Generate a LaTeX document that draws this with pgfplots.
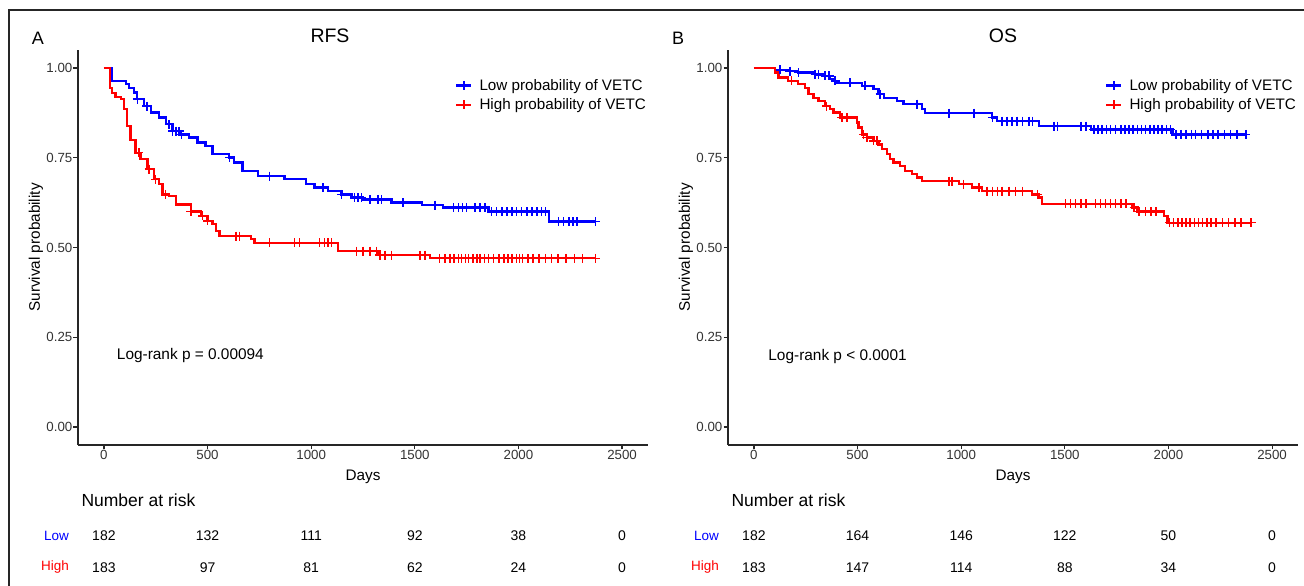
\documentclass[border=0pt]{standalone}
\usepackage{fontspec}
\setmainfont{Liberation Sans}
\usepackage{pgfplots}
\pgfplotsset{compat=1.18}
\definecolor{kmblue}{RGB}{0,0,255}
\definecolor{kmred}{RGB}{255,0,0}
\newcommand{\fs}[1]{\fontsize{#1}{#1}\selectfont}

\pgfplotsset{
  kmaxis/.style={
    scale only axis, width=570pt, height=395pt, anchor=south west,
    xmin=-125, xmax=2625, ymin=-0.05, ymax=1.05,
    axis x line*=bottom, axis y line*=left,
    axis line style={black!85, line width=1.5pt, -},
    tick align=outside, major tick length=4.5pt,
    every tick/.style={black!85, line width=1.2pt},
    xtick={0,500,...,2500}, xticklabels={0,500,1000,1500,2000,2500},
    ytick={0,0.25,0.5,0.75,1}, yticklabels={0.00,0.25,0.50,0.75,1.00},
    tick label style={font=\fs{13.3}, text=black!80, inner sep=1pt},
    xlabel={Days}, ylabel={Survival probability},
    label style={font=\fs{15.3}},
    xlabel style={at={(rel axis cs:0.5,-0.0818)}, anchor=center},
    ylabel style={at={(rel axis cs:-0.0737,0.5)}, anchor=center},
    clip=false,
    legend style={draw=none, fill=none, font=\fs{15.2}, at={(rel axis cs:0.6614,0.9316)},
      anchor=north west, row sep=3pt, inner sep=0pt},
    legend cell align=left,
    legend image code/.code={\draw[mark repeat=2, mark phase=2, #1] plot coordinates {(0pt,0pt) (7.5pt,0pt) (15pt,0pt)}; \path (20pt,0pt);},
  },
  km/.style={const plot mark left, line width=2.3pt, no markers, forget plot},
  cens/.style={only marks, mark=+, mark size=4.5pt, line width=1.5pt, forget plot},
  kmleg/.style={line width=2.3pt, mark=+, mark size=4.5pt, mark options={line width=1.5pt}},
}

\begin{document}
\begin{tikzpicture}
\path[use as bounding box] (0,0) rectangle (1304pt,586pt);
\draw[line width=2pt, black!85] (9pt,0pt) -- (9pt,576pt) -- (1304pt,576pt);

% ---------------- panel A : RFS ----------------
\begin{axis}[kmaxis, at={(78pt,141pt)}]
\addlegendimage{kmblue, kmleg}
\addlegendentry{Low probability of VETC}
\addlegendimage{kmred, kmleg}
\addlegendentry{High probability of VETC}

\addplot[km, kmblue] coordinates {
(0,1) (38,0.964) (105,0.955) (120,0.945) (145,0.932) (161,0.913) (194,0.894)
(226,0.876) (266,0.862) (298,0.843) (331,0.824) (371,0.815) (411,0.806)
(452,0.792) (490,0.783) (524,0.760) (605,0.751) (629,0.737) (669,0.713)
(742,0.699) (871,0.690) (976,0.676) (1016,0.667) (1081,0.657) (1146,0.648)
(1194,0.639) (1250,0.634) (1387,0.625) (1533,0.618) (1636,0.611) (1855,0.600)
(2149,0.572) (2372,0.572)};
\addplot[cens, kmblue] coordinates {
(161,0.913) (207,0.894) (315,0.843) (331,0.824) (347,0.824) (363,0.824) (374,0.815)
(605,0.751) (799,0.699) (1057,0.667) (1146,0.648) (1210,0.639) (1226,0.639)
(1242,0.639) (1283,0.634) (1323,0.634) (1339,0.634) (1444,0.625) (1597,0.618)
(1686,0.611) (1710,0.611) (1730,0.611) (1750,0.611) (1791,0.611) (1815,0.611)
(1839,0.611) (1871,0.600) (1895,0.600) (1920,0.600) (1945,0.600) (1968,0.600)
(1990,0.600) (2015,0.600) (2040,0.600) (2065,0.600) (2090,0.600) (2110,0.600)
(2130,0.600) (2194,0.572) (2218,0.572) (2243,0.572) (2263,0.572) (2283,0.572)
(2372,0.572)};

\addplot[km, kmred] coordinates {
(0,1) (29,0.945) (40,0.930) (56,0.920) (81,0.913) (97,0.885) (113,0.838)
(129,0.800) (153,0.764) (177,0.746) (210,0.718) (242,0.690) (266,0.676)
(282,0.648) (315,0.643) (347,0.620) (420,0.600) (468,0.588) (500,0.574)
(524,0.565) (540,0.546) (557,0.532) (710,0.523) (726,0.513) (1130,0.490)
(1323,0.479) (1573,0.470) (2372,0.470)};
\addplot[cens, kmred] coordinates {
(169,0.764) (218,0.718) (250,0.690) (298,0.648) (420,0.600) (476,0.588)
(500,0.574) (637,0.532) (653,0.532) (799,0.513) (920,0.513) (944,0.513)
(1041,0.513) (1065,0.513) (1081,0.513) (1097,0.513) (1218,0.490) (1250,0.490)
(1283,0.490) (1315,0.490) (1331,0.479) (1355,0.479) (1387,0.479) (1525,0.479)
(1549,0.479) (1620,0.470) (1645,0.470) (1670,0.470) (1690,0.470) (1710,0.470)
(1725,0.470) (1745,0.470) (1760,0.470) (1780,0.470) (1800,0.470) (1815,0.470)
(1835,0.470) (1855,0.470) (1880,0.470) (1905,0.470) (1930,0.470) (1950,0.470)
(1970,0.470) (1990,0.470) (2005,0.470) (2020,0.470) (2045,0.470) (2070,0.470)
(2100,0.470) (2130,0.470) (2160,0.470) (2190,0.470) (2230,0.470) (2270,0.470)
(2310,0.470) (2372,0.470)};

\node[anchor=west, font=\fs{15.4}] at (axis cs:46,0.198) {Log-rank p = 0.00094};

\node[anchor=west, font=\fs{17.5}, yshift=-55pt] at (rel axis cs:0,0) {Number at risk};
\node[anchor=east, font=\fs{13.5}, text=kmblue, xshift=-5.6pt, yshift=-90.7pt] at (rel axis cs:0,0) {Low};
\node[anchor=east, font=\fs{13.5}, text=kmred, xshift=-5.6pt, yshift=-122.3pt] at (rel axis cs:0,0) {High};
\node[font=\fs{14}, yshift=-90.7pt] at (axis cs:0,-0.05) {182};
\node[font=\fs{14}, yshift=-90.7pt] at (axis cs:500,-0.05) {132};
\node[font=\fs{14}, yshift=-90.7pt] at (axis cs:1000,-0.05) {111};
\node[font=\fs{14}, yshift=-90.7pt] at (axis cs:1500,-0.05) {92};
\node[font=\fs{14}, yshift=-90.7pt] at (axis cs:2000,-0.05) {38};
\node[font=\fs{14}, yshift=-90.7pt] at (axis cs:2500,-0.05) {0};
\node[font=\fs{14}, yshift=-122.3pt] at (axis cs:0,-0.05) {183};
\node[font=\fs{14}, yshift=-122.3pt] at (axis cs:500,-0.05) {97};
\node[font=\fs{14}, yshift=-122.3pt] at (axis cs:1000,-0.05) {81};
\node[font=\fs{14}, yshift=-122.3pt] at (axis cs:1500,-0.05) {62};
\node[font=\fs{14}, yshift=-122.3pt] at (axis cs:2000,-0.05) {24};
\node[font=\fs{14}, yshift=-122.3pt] at (axis cs:2500,-0.05) {0};
\end{axis}

% ---------------- panel B : OS ----------------
\begin{axis}[kmaxis, at={(728pt,141pt)}]
\addlegendimage{kmblue, kmleg}
\addlegendentry{Low probability of VETC}
\addlegendimage{kmred, kmleg}
\addlegendentry{High probability of VETC}

\addplot[km, kmblue] coordinates {
(0,1) (102,0.995) (166,0.991) (214,0.987) (295,0.982) (343,0.978) (368,0.970)
(384,0.964) (400,0.959) (521,0.950) (577,0.941) (601,0.927) (626,0.917)
(690,0.908) (722,0.899) (811,0.885) (827,0.874) (1150,0.862) (1174,0.852)
(1375,0.838) (1625,0.829) (2020,0.815) (2374,0.815)};
\addplot[cens, kmblue] coordinates {
(126,0.995) (174,0.991) (214,0.987) (295,0.982) (311,0.982) (343,0.978)
(363,0.978) (392,0.964) (464,0.959) (537,0.950) (609,0.927) (787,0.899)
(940,0.874) (1061,0.874) (1150,0.862) (1198,0.852) (1222,0.852) (1246,0.852)
(1270,0.852) (1295,0.852) (1327,0.852) (1343,0.852) (1448,0.838) (1464,0.838)
(1577,0.838) (1601,0.838) (1640,0.829) (1660,0.829) (1680,0.829) (1700,0.829)
(1720,0.829) (1745,0.829) (1770,0.829) (1790,0.829) (1810,0.829) (1830,0.829)
(1850,0.829) (1870,0.829) (1890,0.829) (1910,0.829) (1930,0.829) (1950,0.829)
(1970,0.829) (1990,0.829) (2011,0.829) (2036,0.815) (2060,0.815) (2085,0.815)
(2110,0.815) (2130,0.815) (2160,0.815) (2190,0.815) (2215,0.815) (2240,0.815)
(2270,0.815) (2300,0.815) (2330,0.815) (2374,0.815)};

\addplot[km, kmred] coordinates {
(0,1) (102,0.987) (118,0.973) (166,0.964) (214,0.955) (247,0.945) (263,0.927)
(287,0.917) (311,0.908) (343,0.894) (368,0.885) (384,0.876) (416,0.862)
(497,0.848) (505,0.834) (521,0.815) (545,0.806) (577,0.797) (601,0.787)
(618,0.774) (642,0.760) (658,0.746) (674,0.737) (706,0.727) (730,0.713)
(763,0.704) (787,0.695) (811,0.685) (988,0.676) (1053,0.667) (1101,0.657)
(1340,0.648) (1375,0.639) (1391,0.622) (1826,0.611) (1851,0.600) (1980,0.588)
(1996,0.569) (2399,0.569)};
\addplot[cens, kmred] coordinates {
(182,0.964) (351,0.894) (424,0.862) (448,0.862) (529,0.815) (545,0.806)
(577,0.797) (593,0.797) (940,0.685) (956,0.685) (1012,0.676) (1085,0.667)
(1125,0.657) (1150,0.657) (1174,0.657) (1198,0.657) (1230,0.657) (1263,0.657)
(1295,0.657) (1367,0.648) (1504,0.622) (1528,0.622) (1552,0.622) (1577,0.622)
(1601,0.622) (1649,0.622) (1673,0.622) (1697,0.622) (1721,0.622) (1745,0.622)
(1770,0.622) (1794,0.622) (1834,0.611) (1858,0.600) (1890,0.600) (1915,0.600)
(1940,0.600) (2004,0.569) (2025,0.569) (2045,0.569) (2065,0.569) (2085,0.569)
(2105,0.569) (2125,0.569) (2145,0.569) (2165,0.569) (2185,0.569) (2205,0.569)
(2230,0.569) (2260,0.569) (2290,0.569) (2320,0.569) (2350,0.569) (2399,0.569)};

\node[anchor=west, font=\fs{15.4}] at (axis cs:53,0.196) {Log-rank p < 0.0001};

\node[anchor=west, font=\fs{17.5}, yshift=-55pt] at (rel axis cs:0,0) {Number at risk};
\node[anchor=east, font=\fs{13.5}, text=kmblue, xshift=-5.6pt, yshift=-90.7pt] at (rel axis cs:0,0) {Low};
\node[anchor=east, font=\fs{13.5}, text=kmred, xshift=-5.6pt, yshift=-122.3pt] at (rel axis cs:0,0) {High};
\node[font=\fs{14}, yshift=-90.7pt] at (axis cs:0,-0.05) {182};
\node[font=\fs{14}, yshift=-90.7pt] at (axis cs:500,-0.05) {164};
\node[font=\fs{14}, yshift=-90.7pt] at (axis cs:1000,-0.05) {146};
\node[font=\fs{14}, yshift=-90.7pt] at (axis cs:1500,-0.05) {122};
\node[font=\fs{14}, yshift=-90.7pt] at (axis cs:2000,-0.05) {50};
\node[font=\fs{14}, yshift=-90.7pt] at (axis cs:2500,-0.05) {0};
\node[font=\fs{14}, yshift=-122.3pt] at (axis cs:0,-0.05) {183};
\node[font=\fs{14}, yshift=-122.3pt] at (axis cs:500,-0.05) {147};
\node[font=\fs{14}, yshift=-122.3pt] at (axis cs:1000,-0.05) {114};
\node[font=\fs{14}, yshift=-122.3pt] at (axis cs:1500,-0.05) {88};
\node[font=\fs{14}, yshift=-122.3pt] at (axis cs:2000,-0.05) {34};
\node[font=\fs{14}, yshift=-122.3pt] at (axis cs:2500,-0.05) {0};
\end{axis}

% panel letters and titles
\node[font=\fs{18}] at (38pt,547.7pt) {A};
\node[font=\fs{19.5}] at (330pt,550.5pt) {RFS};
\node[font=\fs{18}] at (678pt,547.7pt) {B};
\node[font=\fs{19.5}] at (1003pt,550.5pt) {OS};
\end{tikzpicture}
\end{document}
